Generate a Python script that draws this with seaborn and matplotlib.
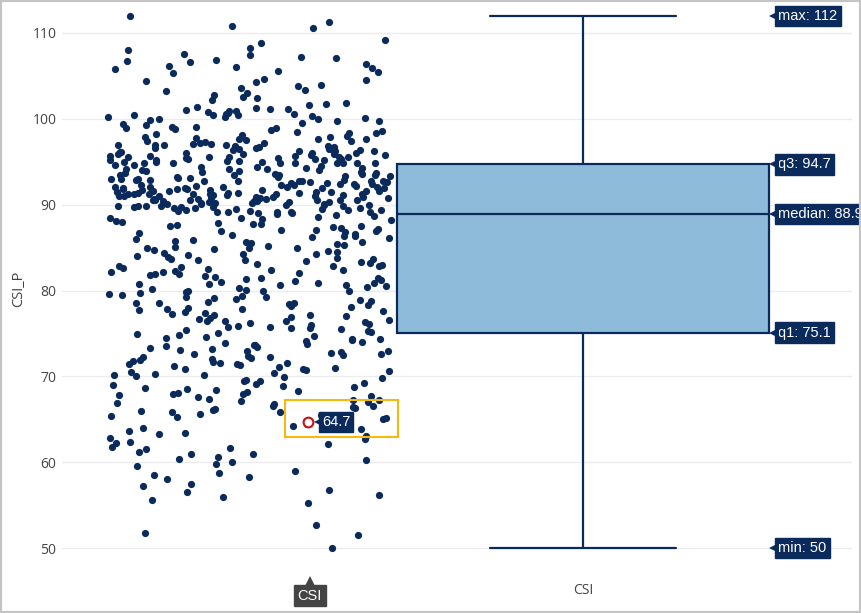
import numpy as np
import pandas as pd
import matplotlib
matplotlib.use("Agg")
import matplotlib.pyplot as plt
import matplotlib.transforms as mtransforms
from matplotlib.patches import Rectangle
import seaborn as sns

# ---------------- data ----------------
category = "CSI"
y_label = "CSI_P"

csi_p_100_112 = [112.0, 111.3, 110.8, 110.6, 109.2, 108.8, 108.3, 108.0, 107.6, 107.4,
                 107.2, 107.1, 106.9, 106.7, 106.6, 106.4, 106.2, 106.0, 105.9, 105.8,
                 105.6, 105.5, 105.3, 104.6, 104.5, 104.4, 104.3, 103.9, 103.8, 103.6,
                 103.2, 103.0, 102.8, 102.6, 102.2, 101.9, 101.7, 101.4, 101.2, 101.0,
                 100.9, 100.8, 100.6, 100.5, 100.4, 100.3, 100.2, 100.1, 100.0, 100.0,
                 100.7, 100.9, 101.1, 101.3, 100.6, 100.2, 100.4, 101.6, 102.4, 103.4]

csi_p_947_100 = [99.8, 99.5, 99.4, 99.1, 98.9, 98.8, 98.6, 98.4, 98.3, 98.1,
                 98.0, 97.9, 97.8, 97.7, 97.6, 97.5, 97.4, 97.3, 97.2, 97.1,
                 97.0, 96.9, 96.8, 96.8, 96.7, 96.6, 96.5, 96.5, 96.4, 96.3,
                 96.3, 96.2, 96.1, 96.0, 96.0, 95.9, 95.9, 95.8, 95.7, 95.7,
                 95.6, 95.6, 95.5, 95.5, 95.4, 95.3, 95.3, 95.2, 95.2, 95.1,
                 95.1, 95.0, 95.0, 94.9, 94.9, 94.8, 94.8, 94.8, 94.8, 99.3,
                 99.0, 98.7, 98.2, 97.9, 97.4, 97.0, 96.7, 96.2, 95.8, 95.4,
                 95.0, 94.9, 97.6, 96.9, 96.4, 96.0, 95.6, 95.2, 98.5, 99.7,
                 97.2, 96.6, 95.9, 95.3, 94.8, 96.1, 95.7, 97.1, 98.9, 99.9]

csi_p_889_947 = [94.6, 94.4, 94.3, 94.1, 93.9, 93.8, 93.6, 93.5, 93.3, 93.2,
                 93.0, 92.9, 92.8, 92.7, 92.5, 92.4, 92.3, 92.2, 92.0, 91.9,
                 91.8, 91.7, 91.6, 91.5, 91.4, 91.3, 91.2, 91.1, 91.0, 90.9,
                 90.8, 90.7, 90.6, 90.5, 90.4, 90.3, 90.2, 90.1, 90.0, 89.9,
                 89.8, 89.7, 89.6, 89.5, 89.4, 89.3, 89.2, 89.1, 89.0, 88.9,
                 94.5, 94.2, 94.0, 93.7, 93.4, 93.1, 92.8, 92.6, 92.3, 92.1,
                 91.9, 91.6, 91.4, 91.2, 91.0, 90.8, 90.5, 90.3, 90.1, 89.8,
                 89.6, 89.3, 89.1, 94.6, 94.3, 93.9, 93.5, 93.0, 92.7, 92.4,
                 92.0, 91.8, 91.5, 91.3, 91.1, 90.9, 90.6, 90.4, 90.0, 89.7,
                 89.4, 89.2, 93.8, 93.3, 92.9, 92.5, 92.2, 91.9, 91.7, 91.4,
                 91.2, 91.0, 90.7, 90.2, 89.9, 89.5, 94.1, 93.6, 93.2, 92.8,
                 92.6, 92.3, 91.8, 91.5, 91.1, 90.8, 90.5, 90.1, 89.6, 89.2,
                 94.4, 93.7, 93.1, 92.7, 92.1, 91.6, 91.3, 90.9, 90.6, 90.3,
                 89.8, 89.4, 89.0, 93.4, 92.4, 91.7, 91.0, 90.4, 89.7, 91.4,
                 92.9, 90.7, 91.9, 93.0, 92.0, 91.2, 90.2, 94.0, 91.6, 90.0]

csi_p_751_889 = [88.7, 88.5, 88.4, 88.2, 88.0, 87.9, 87.7, 87.5, 87.3, 87.1,
                 86.9, 86.8, 86.6, 86.4, 86.2, 86.0, 85.9, 85.7, 85.5, 85.3,
                 85.1, 84.9, 84.8, 84.6, 84.4, 84.2, 84.0, 83.9, 83.7, 83.5,
                 83.3, 83.1, 82.9, 82.8, 82.6, 82.4, 82.2, 82.0, 81.9, 81.7,
                 81.5, 81.3, 81.1, 80.9, 80.8, 80.6, 80.4, 80.2, 80.0, 79.9,
                 88.6, 88.1, 87.8, 87.4, 87.0, 86.7, 86.3, 85.8, 85.4, 85.0,
                 84.7, 84.3, 83.8, 83.4, 83.0, 82.7, 82.3, 81.8, 81.4, 81.0,
                 80.7, 80.3, 79.8, 79.6, 79.4, 79.2, 79.0, 78.8, 78.6, 78.4,
                 78.2, 78.0, 77.8, 77.6, 77.4, 77.2, 77.0, 76.8, 76.6, 76.4,
                 76.2, 76.0, 75.8, 75.6, 75.4, 75.2, 88.3, 87.6, 86.5, 85.6,
                 84.5, 83.6, 82.5, 81.6, 80.5, 79.7, 78.9, 78.1, 77.3, 76.5,
                 75.7, 88.8, 87.2, 86.1, 84.1, 82.1, 80.1, 79.3, 78.5, 77.7,
                 76.9, 76.1, 75.3, 86.9, 83.2, 81.2, 79.5, 78.3, 77.5, 76.7,
                 75.9, 82.8, 80.6, 78.7, 77.1, 76.3, 75.5, 84.9, 81.9, 79.1,
                 87.5, 85.2, 83.7, 82.4, 80.9, 79.9, 78.6, 77.9, 76.4, 75.6]

csi_p_50_751 = [75.0, 74.8, 74.6, 74.5, 74.3, 74.1, 73.9, 73.8, 73.6, 73.4,
                73.2, 73.0, 72.9, 72.7, 72.5, 72.3, 72.1, 72.0, 71.8, 71.6,
                71.4, 71.2, 71.0, 70.9, 70.7, 70.5, 70.3, 70.1, 70.0, 74.9,
                74.4, 74.0, 73.5, 73.1, 72.6, 72.2, 71.7, 71.3, 70.8, 70.4,
                74.7, 73.7, 72.8, 71.9, 71.1, 70.6, 73.3, 72.4, 71.5, 70.2,
                69.8, 69.6, 69.4, 69.2, 69.0, 68.8, 68.6, 68.4, 68.2, 68.0,
                67.8, 67.6, 67.4, 67.2, 67.0, 66.8, 66.6, 66.4, 66.2, 66.0,
                65.8, 65.6, 65.4, 65.2, 65.0, 69.5, 68.9, 68.3, 67.7, 67.1,
                66.5, 65.9, 65.3, 69.1, 67.9, 66.9, 66.1, 65.5, 68.5, 67.3,
                64.5, 64.2, 63.9, 63.6, 63.3, 63.0, 62.7, 62.4, 62.1,
                61.8, 61.5, 61.2, 60.9, 60.6, 60.3, 60.0, 64.0, 63.4, 62.8,
                62.2, 61.6, 61.0, 60.4, 59.8, 59.5, 59.0, 58.7, 58.5, 58.3,
                58.0, 57.5, 57.2, 56.8, 56.5, 56.2, 55.9, 55.6, 55.3, 52.7,
                51.5, 51.8, 50.0, 74.2, 72.6, 71.4, 69.9, 68.1, 66.3, 64.8]

# box statistics shown in the hover labels
stat_min = 50
stat_q1 = 75.1
stat_median = 88.9
stat_q3 = 94.7
stat_max = 112

highlight_value = 64.7

# ---------------- style ----------------
NAVY = "#0b2a5c"
BOX_FILL = "#8fbbdb"
GRID = "#ececec"
TICK = "#444444"

sns.set_theme(style="white")
plt.rcParams["font.family"] = ["Open Sans", "DejaVu Sans"]

values = csi_p_100_112 + csi_p_947_100 + csi_p_889_947 + csi_p_751_889 + csi_p_50_751
df = pd.DataFrame({"series": [category] * len(values), y_label: values})

fig = plt.figure(figsize=(8.61, 6.13), dpi=100)
ax = fig.add_axes([62 / 861, 43 / 613, 790 / 861, 562 / 613])

np.random.seed(7)
sns.stripplot(data=df, x="series", y=y_label, jitter=0.305, size=5.2,
              color=NAVY, linewidth=0, ax=ax, zorder=3)

box_pos = 0.716
box_width = 0.8
stats = [dict(med=stat_median, q1=stat_q1, q3=stat_q3,
              whislo=stat_min, whishi=stat_max, fliers=[])]
ax.bxp(stats, positions=[box_pos], widths=box_width, capwidths=0.4,
       showfliers=False, patch_artist=True, manage_ticks=False,
       boxprops=dict(facecolor=BOX_FILL, edgecolor=NAVY, linewidth=1.6),
       medianprops=dict(color=NAVY, linewidth=1.6),
       whiskerprops=dict(color=NAVY, linewidth=1.6),
       capprops=dict(color=NAVY, linewidth=1.6), zorder=2)

ax.set_xlim(-0.404, 1.295)
ax.set_ylim(47.44, 112.91)
ax.set_yticks([50, 60, 70, 80, 90, 100, 110])
ax.set_xticks([box_pos], [category])
ax.tick_params(axis="both", length=0, labelsize=10, colors=TICK)
ax.tick_params(axis="y", pad=4)
ax.tick_params(axis="x", pad=9)
ax.grid(axis="y", color=GRID, linewidth=1)
ax.grid(axis="x", visible=False)
for s in ax.spines.values():
    s.set_visible(False)
ax.set_xlabel("")
ax.set_ylabel(y_label, fontsize=10.5, color=TICK)
ax.yaxis.set_label_coords(-36 / 790, 0.5)

# ---------------- hover labels ----------------
label_font = dict(family=["Liberation Sans", "DejaVu Sans"], size=10.5, color="white")
box_right = box_pos + box_width / 2
for txt, val in [(f"max: {stat_max}", stat_max), (f"q3: {stat_q3}", stat_q3),
                 (f"median: {stat_median}", stat_median), (f"q1: {stat_q1}", stat_q1),
                 (f"min: {stat_min}", stat_min)]:
    ax.annotate(txt, xy=(box_right, val), xytext=(7, 0), textcoords="offset points",
                ha="left", va="center", annotation_clip=False,
                bbox=dict(boxstyle="square,pad=0.22", fc=NAVY, ec=NAVY), **label_font,
                zorder=6)
    tr = mtransforms.offset_copy(ax.transData, fig=fig, x=4.0, y=0, units="points")
    ax.plot([box_right], [val], marker="<", ms=7, color=NAVY, mew=0,
            transform=tr, clip_on=False, zorder=6)

# highlighted point
hx = 0.125
ax.plot([hx], [highlight_value], marker="o", ms=7, mfc="white", mec="#cc1111",
        mew=1.5, zorder=5)
ax.annotate(f"{highlight_value}", xy=(hx, highlight_value), xytext=(10, 0),
            textcoords="offset points", ha="left", va="center",
            bbox=dict(boxstyle="square,pad=0.22", fc=NAVY, ec=NAVY), **label_font, zorder=6)
tr = mtransforms.offset_copy(ax.transData, fig=fig, x=7.0, y=0, units="points")
ax.plot([hx], [highlight_value], marker="<", ms=6, color=NAVY, mew=0,
        transform=tr, zorder=6)
ax.add_patch(Rectangle((0.075, 62.93), 0.243, 4.31, fill=False,
                       ec="#f5b90f", lw=1.5, zorder=7))

# x hover label below axis
xt = ax.get_xaxis_transform()
ax.annotate(category, xy=(hx + 0.004, 0), xycoords=xt, xytext=(0, -18.5),
            textcoords="offset points", ha="center", va="center",
            annotation_clip=False,
            bbox=dict(boxstyle="square,pad=0.25", fc="#444444", ec="#444444"),
            **label_font, zorder=6)
tr = mtransforms.offset_copy(xt, fig=fig, x=0, y=-8.0, units="points")
ax.plot([hx + 0.004], [0], marker="^", ms=7, color="#444444", mew=0,
        transform=tr, clip_on=False, zorder=6)

# screenshot frame
fig.patches.append(Rectangle((0, 0), 1, 1, transform=fig.transFigure, fill=False,
                             ec="#c4c4c4", lw=3, zorder=10))

fig.savefig("out.png", dpi=100)
